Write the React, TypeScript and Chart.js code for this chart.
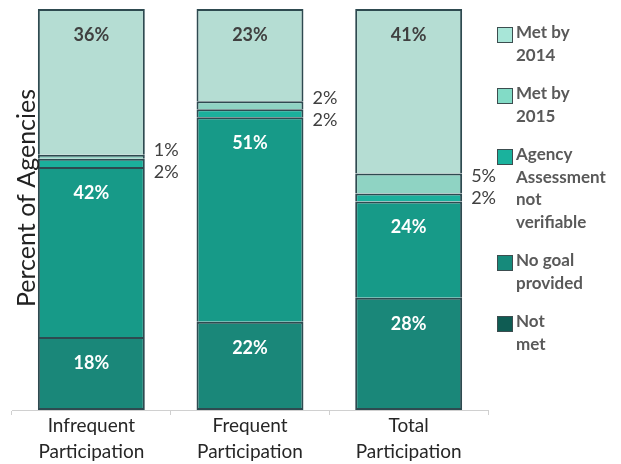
import React, { useEffect, useRef } from "react";
import { Chart, registerables } from "chart.js";

Chart.register(...registerables);

// ---- data ----
const categories = [
  ["Infrequent", "Participation"],
  ["Frequent", "Participation"],
  ["Total", "Participation"],
];
const seriesNames = [
  "Not\nmet",
  "No goal\nprovided",
  "Agency\nAssessment\nnot\nverifiable",
  "Met by\n2015",
  "Met by\n2014",
];
const notMet = [18, 22, 28];
const noGoalProvided = [42, 51, 24];
const agencyNotVerifiable = [2, 2, 2];
const metBy2015 = [1, 2, 5];
const metBy2014 = [36, 23, 41];
const yAxisTitle = "Percent of Agencies";

const seriesValues = [notMet, noGoalProvided, agencyNotVerifiable, metBy2015, metBy2014];
const barColors = ["#1a8779", "#179a88", "#1bb09c", "#8fd3c3", "#b5ddd3"];
const legendColors = ["#0f5c53", "#168a7b", "#1ab29d", "#82dbc6", "#a8e6d8"];

const FONT = "Lato, 'Open Sans', sans-serif";

const totals = categories.map((_, i) => seriesValues.reduce((s, arr) => s + arr[i], 0));

const overlayPlugin = {
  id: "overlay",
  afterDatasetsDraw(chart: any) {
    const ctx = chart.ctx;
    ctx.save();
    ctx.textAlign = "center";
    ctx.textBaseline = "middle";
    const n = categories.length;
    for (let i = 0; i < n; i++) {
      seriesValues.forEach((vals, d) => {
        const v = vals[i];
        if (v < 10) return;
        const el = chart.getDatasetMeta(d).data[i];
        ctx.font = `bold 18px ${FONT}`;
        ctx.fillStyle = d === seriesValues.length - 1 ? "#404040" : "#ffffff";
        ctx.fillText(v + "%", el.x, el.y + 26);
      });
      // small segments: labels outside to the right
      const a = chart.getDatasetMeta(2).data[i];
      const b = chart.getDatasetMeta(3).data[i];
      const mid = (b.y + a.base) / 2;
      const xr = a.x + a.width / 2 + 9;
      ctx.font = `18px ${FONT}`;
      ctx.fillStyle = "#404040";
      ctx.textAlign = "left";
      ctx.fillText(metBy2015[i] + "%", xr, mid - 11);
      ctx.fillText(agencyNotVerifiable[i] + "%", xr, mid + 11);
      ctx.textAlign = "center";
    }
    ctx.restore();
  },
  afterDraw(chart: any) {
    const ctx = chart.ctx;
    ctx.save();
    // y axis title
    ctx.translate(27, 198);
    ctx.rotate(-Math.PI / 2);
    ctx.font = `25px ${FONT}`;
    ctx.fillStyle = "#222222";
    ctx.textAlign = "center";
    ctx.textBaseline = "middle";
    ctx.fillText(yAxisTitle, 0, 0);
    ctx.restore();

    // legend
    ctx.save();
    let y = 27;
    const lineH = 22.5;
    for (let d = seriesNames.length - 1; d >= 0; d--) {
      const lines = seriesNames[d].split("\n");
      ctx.fillStyle = legendColors[d];
      ctx.fillRect(497, y, 15, 15);
      ctx.strokeStyle = "#3c4d4f";
      ctx.lineWidth = 1;
      ctx.strokeRect(497.5, y + 0.5, 15, 15);
      ctx.font = `bold 17px ${FONT}`;
      ctx.fillStyle = "#595959";
      ctx.textAlign = "left";
      ctx.textBaseline = "middle";
      lines.forEach((ln, k) => ctx.fillText(ln, 516, y + 6 + k * lineH));
      y += lines.length * lineH + 16;
    }
    ctx.restore();
  },
};

export default function App() {
  const ref = useRef<HTMLCanvasElement>(null);
  useEffect(() => {
    if (!ref.current) return;
    const chart = new Chart(ref.current, {
      type: "bar",
      data: {
        labels: categories as any,
        datasets: seriesValues.map((vals, d) => ({
          label: seriesNames[d].replace(/\n/g, " "),
          data: vals.map((v, i) => (v / totals[i]) * 100),
          backgroundColor: barColors[d],
          borderColor: "#2e4a50",
          borderWidth: 2,
          borderSkipped: d === 0 ? false : "start",
          categoryPercentage: 1,
          barPercentage: 0.674,
        })),
      },
      options: {
        responsive: false,
        animation: false,
        layout: { padding: { left: 12, right: 133, top: 9, bottom: 0 } },
        plugins: {
          legend: { display: false },
          tooltip: { enabled: false },
          title: { display: false },
        },
        scales: {
          x: {
            stacked: true,
            grid: {
              display: true,
              drawOnChartArea: false,
              drawTicks: true,
              tickLength: 5,
              color: "#d0d0d0",
              offset: true,
            },
            border: { display: true, color: "#d0d0d0", width: 1 },
            ticks: {
              font: { family: FONT, size: 19, lineHeight: 1.37 },
              color: "#262626",
              padding: -2,
              maxRotation: 0,
              autoSkip: false,
            },
            afterFit: (scale: any) => {
              scale.height = 54;
            },
          },
          y: {
            stacked: true,
            display: false,
            min: 0,
            max: 100,
          },
        },
      },
      plugins: [overlayPlugin],
    });
    return () => chart.destroy();
  }, []);
  return (
    <div style={{ position: "fixed", left: 0, top: 0, width: 621, height: 464, background: "#fff" }}>
      <canvas ref={ref} width={621} height={464} style={{ display: "block" }} />
    </div>
  );
}
